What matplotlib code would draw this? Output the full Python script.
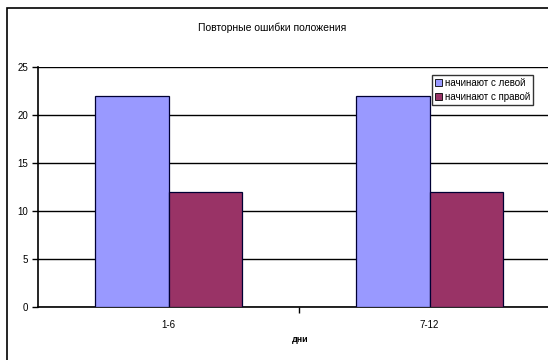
import numpy as np
import matplotlib
matplotlib.use("Agg")
import matplotlib.pyplot as plt
from matplotlib.patches import Rectangle

plt.rcParams['font.family'] = ['Liberation Sans', 'DejaVu Sans']

# data
categories = ['1-6', '7-12']
left_start = [22, 22]
right_start = [12, 12]
series_names = ['начинают с левой', 'начинают с правой']
title = 'Повторные ошибки положения'
xlabel = 'дни'

W, H = 548, 360
fig = plt.figure(figsize=(W / 100, H / 100), dpi=100)

# outer chart border (runs past the right/bottom edge like the crop)
fig.patches.append(Rectangle((7 / W, -0.05), 1.2, 1 - 8 / H + 0.05,
                             transform=fig.transFigure, fill=False,
                             edgecolor='black', lw=1.2))

ax = fig.add_axes([38 / W, 1 - 307 / H, (560 - 38) / W, (307 - 67) / H])
x = np.arange(len(categories))
bw = 0.28
ax.bar(x - bw / 2, left_start, bw, color='#9999FF', edgecolor='#000033', lw=0.9,
       label=series_names[0], zorder=3)
ax.bar(x + bw / 2, right_start, bw, color='#993366', edgecolor='#000033', lw=0.9,
       label=series_names[1], zorder=3)

ax.set_xlim(-0.5, 1.5)
ax.set_ylim(0, 25)
ax.set_yticks(range(0, 26, 5))
ax.yaxis.grid(True, color='black', lw=1)
ax.set_axisbelow(True)
for s in ['top', 'right']:
    ax.spines[s].set_visible(False)
ax.spines['left'].set_lw(1.2)
ax.spines['bottom'].set_lw(1.2)
ax.set_xticks(x)
ax.set_xticklabels(categories)
ax.set_xticks([0.5], minor=True)
ax.tick_params(axis='x', which='major', length=0, labelsize=7, pad=9)
ax.tick_params(axis='x', which='minor', length=4, width=1, direction='out')
ax.tick_params(axis='y', length=4, width=1, labelsize=7, pad=3)

fig.text(272 / W, 1 - 28 / H, title, ha='center', va='center', fontsize=7.5)
fig.text(300 / W, 1 - 340 / H, xlabel, ha='center', va='center', fontsize=6.5,
         fontweight='bold')

leg = ax.legend(loc='upper left', bbox_to_anchor=(432 / W, 1 - 75 / H),
                bbox_transform=fig.transFigure, fontsize=7, frameon=True,
                fancybox=False, edgecolor='black', borderpad=0.3,
                handlelength=0.7, handleheight=0.7, handletextpad=0.3,
                labelspacing=0.4, borderaxespad=0)
leg.get_frame().set_linewidth(1)
for p in leg.get_patches():
    p.set_edgecolor('black')
    p.set_linewidth(0.6)

fig.savefig('out.png', dpi=100)
